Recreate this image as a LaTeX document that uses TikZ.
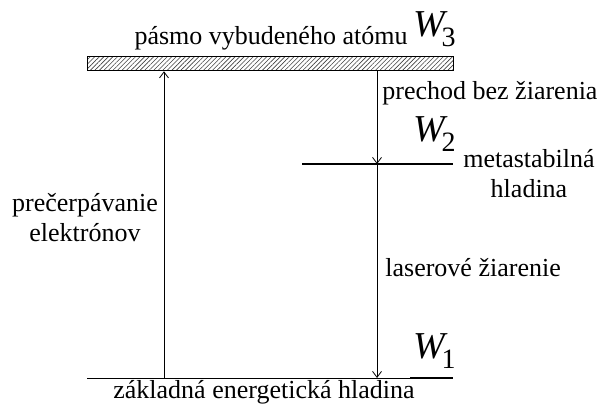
\documentclass[tikz,border=0pt]{standalone}
\usepackage{fontspec}
\setmainfont{Liberation Serif}
\usetikzlibrary{patterns.meta,arrows.meta}

\newcommand{\lvl}[1]{{\fontsize{19}{19}\selectfont\textit{W}\kern-3pt\raisebox{-5pt}{\fontsize{14}{14}\selectfont #1}}}

\begin{document}
\begin{tikzpicture}[x=0.5pt, y=-0.5pt, >={Straight Barb[length=3pt,width=4.5pt]},
  lbl/.style={inner sep=0pt, font=\fontsize{13}{15}\selectfont},
  lvllabel/.style={inner sep=0pt, anchor=base east},
  level/.style={line width=1.4pt}]
\useasboundingbox (0,0) rectangle (598,405);
% levels
\node[draw, line width=0.5pt, pattern={Lines[angle=45,distance=1.6pt,line width=0.3pt]}, pattern color=black!75, minimum width=183pt, minimum height=7pt, inner sep=0pt] (band) at (270,64) {};
\coordinate (mleft) at (302,164);
\coordinate (mright) at (453,164);
\coordinate (gleft) at (87,378);
\coordinate (gright) at (453,378);
\coordinate (gthick) at (410,378);
\draw[level] (mleft) -- (mright);
\draw[line width=0.5pt] (gleft) -- (gright);
\draw[level] (gthick) -- (gright);
% transitions
\coordinate (pump) at (164,378);
\coordinate (meta) at (377,164);
\coordinate (ground) at (377,378);
\draw[->] (pump) -- (pump|-band.south);
\draw[->] (meta|-band.south) -- (meta);
\draw[->] (meta) -- (ground);
% labels
\node[lbl, anchor=base] (tband) at (271,45) {pásmo vybudeného atómu};
\node[lvllabel] (wthree) at (456,37) {\lvl{3}};
\node[lbl, anchor=base west] (tnorad) at (382,100) {prechod bez žiarenia};
\node[lvllabel] (wtwo) at (456,142) {\lvl{2}};
\node[lbl, align=center] (tmeta) at (529,174) {metastabilná\\hladina};
\node[lbl, anchor=base west] (tlaser) at (385,277) {laserové žiarenie};
\node[lbl, align=center] (tpump) at (85,218) {prečerpávanie\\elektrónov};
\node[lvllabel] (wone) at (456,358) {\lvl{1}};
\node[lbl, anchor=base] (tground) at (264,398) {základná energetická hladina};
\end{tikzpicture}
\end{document}
